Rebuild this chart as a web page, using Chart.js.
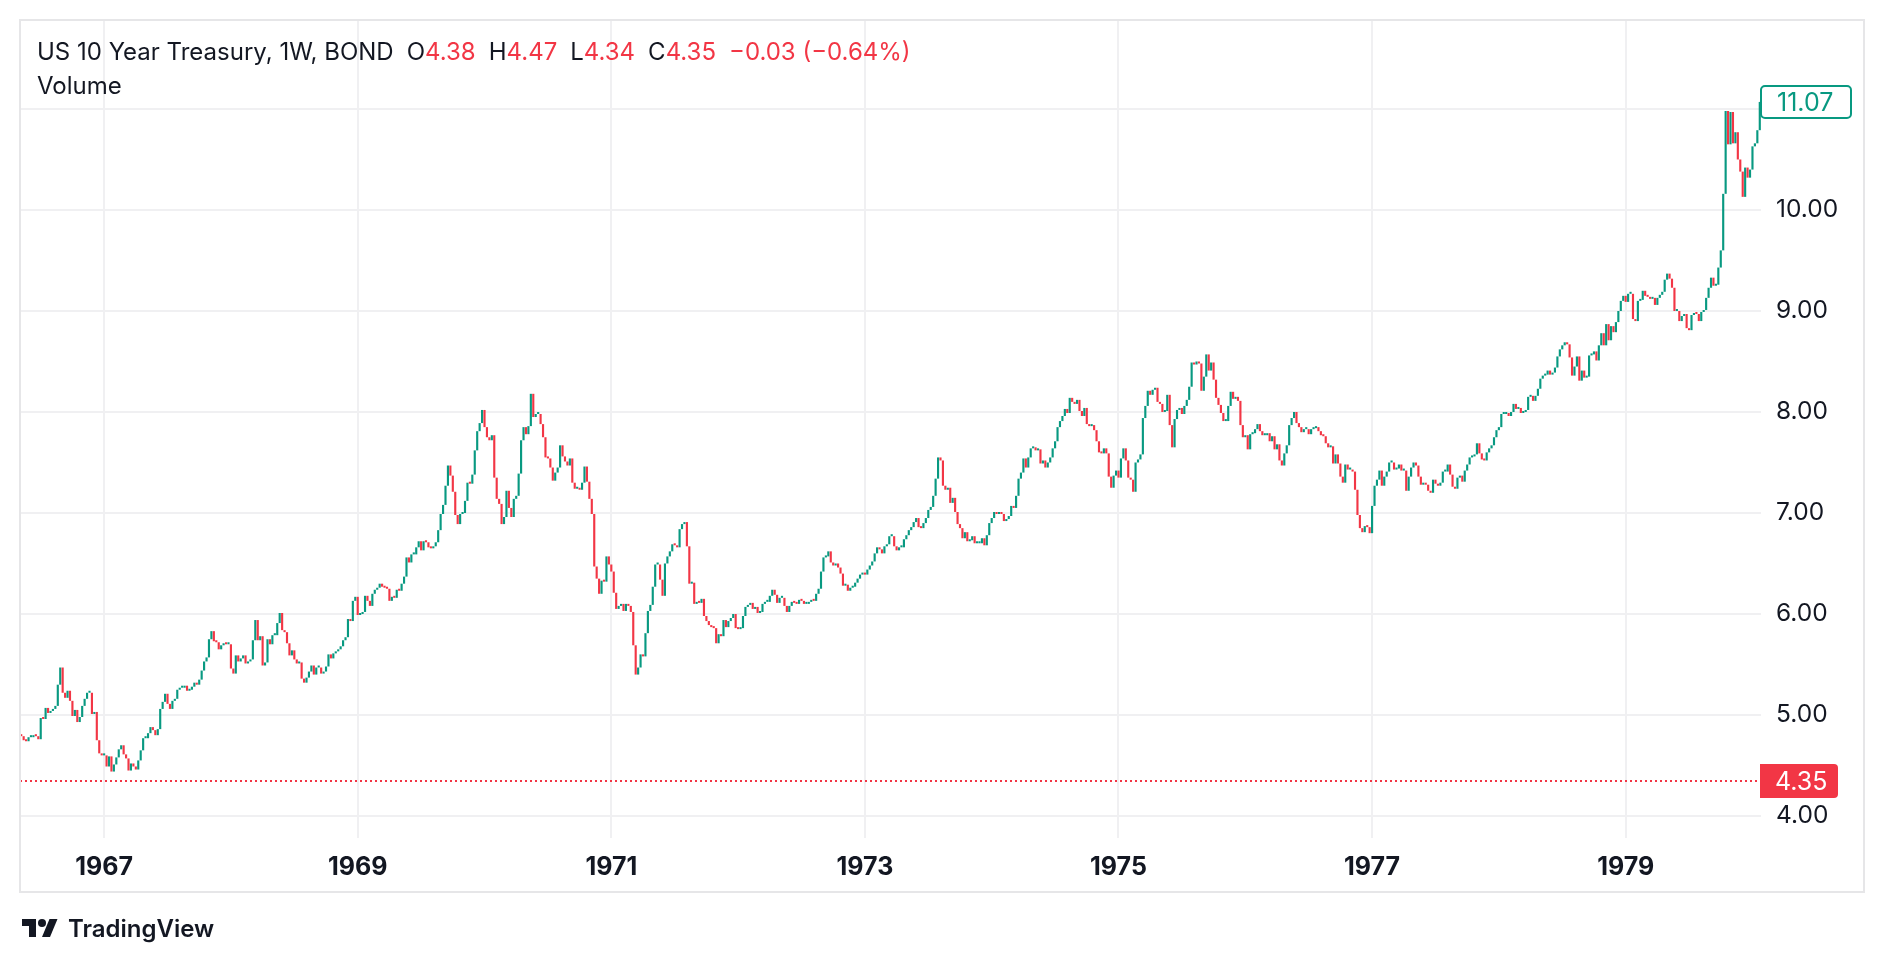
<!DOCTYPE html>
<html lang="en">
<head>
  <meta charset="UTF-8">
  <title>US 10 Year Treasury, 1W</title>
  <script src="https://cdn.jsdelivr.net/npm/chart.js"></script>
  <style>
      html, body { margin: 0; padding: 0; background: #ffffff; }
      body { width: 1882px; height: 964px; position: relative; overflow: hidden; font-family: Inter, "Noto Sans", sans-serif; color: #131722; }
      #chart { position: absolute; left: 0; top: 0; }
      #legend { position: absolute; left: 37px; top: 35px; font-size: 24px; line-height: 34px; white-space: nowrap; }
      #legend .kv { margin-left: 13px; }
      #legend .val { color: #f23645; }
      #logo { position: absolute; left: 22px; top: 914px; display: flex; align-items: center; font-size: 24px; font-weight: 600; }
      #logo svg { margin-right: 10px; }
  </style>
</head>
<body>
  <canvas id="chart" width="1882" height="964"></canvas>
  <div id="legend">
      <div id="title-line"></div>
      <div>Volume</div>
  </div>
  <div id="logo">
      <svg width="36" height="28" viewBox="0 0 36 28"><path d="M14 22H7V11H0V4h14v18z" fill="#131722"/><circle cx="20" cy="8" r="4" fill="#131722"/><path d="M28 22h-8l7.5-18h8z" fill="#131722"/></svg>
      <span>TradingView</span>
  </div>

  <script>
      // weekly closes, one array per calendar year
      var c1966 = [4.79, 4.75, 4.74, 4.78, 4.78, 4.80, 4.79, 4.76, 4.97, 4.96, 5.07, 5.02, 5.04, 5.06, 5.09, 5.30, 5.47,
                   5.22, 5.17, 5.24, 5.14, 4.99, 5.05, 4.93, 4.98, 5.09, 5.16, 5.22, 5.22, 5.01, 5.03, 4.75, 4.62, 4.60];
      var c1967 = [4.60, 4.49, 4.59, 4.44, 4.51, 4.58, 4.66, 4.70, 4.61, 4.57, 4.45, 4.52, 4.49, 4.46, 4.55, 4.65, 4.77, 4.77,
                   4.82, 4.88, 4.85, 4.80, 4.86, 5.06, 5.13, 5.21, 5.11, 5.06, 5.14, 5.16, 5.25, 5.27, 5.27, 5.29, 5.24, 5.25,
                   5.28, 5.32, 5.30, 5.35, 5.44, 5.53, 5.57, 5.75, 5.83, 5.73, 5.72, 5.65, 5.69, 5.71, 5.70, 5.70];
      var c1968 = [5.46, 5.41, 5.59, 5.53, 5.56, 5.59, 5.51, 5.53, 5.55, 5.74, 5.94, 5.74, 5.78, 5.49, 5.52, 5.75, 5.70, 5.79,
                   5.79, 5.91, 6.01, 5.84, 5.82, 5.71, 5.59, 5.64, 5.55, 5.51, 5.52, 5.36, 5.32, 5.37, 5.43, 5.49, 5.40, 5.47,
                   5.47, 5.41, 5.43, 5.48, 5.60, 5.56, 5.61, 5.63, 5.65, 5.68, 5.74, 5.77, 5.95, 5.93, 6.13, 6.17];
      var c1969 = [5.99, 6.00, 6.02, 6.18, 6.13, 6.08, 6.20, 6.24, 6.26, 6.30, 6.27, 6.26, 6.25, 6.13, 6.17, 6.16, 6.24, 6.23,
                   6.30, 6.37, 6.56, 6.51, 6.59, 6.59, 6.66, 6.72, 6.63, 6.72, 6.71, 6.66, 6.65, 6.67, 6.71, 6.83, 6.99, 7.08,
                   7.27, 7.47, 7.37, 7.21, 6.98, 6.89, 6.99, 7.00, 7.12, 7.30, 7.29, 7.38, 7.62, 7.81, 7.89, 8.02];
      var c1970 = [7.85, 7.75, 7.72, 7.77, 7.35, 7.14, 7.09, 6.89, 6.96, 7.22, 7.05, 6.96, 7.14, 7.17, 7.39, 7.72, 7.85, 7.78,
                   7.86, 8.18, 7.95, 7.98, 7.98, 7.88, 7.75, 7.55, 7.54, 7.45, 7.32, 7.40, 7.45, 7.67, 7.56, 7.51, 7.47, 7.54,
                   7.30, 7.24, 7.25, 7.23, 7.30, 7.46, 7.31, 7.14, 6.99, 6.47, 6.35, 6.20, 6.33, 6.32, 6.57, 6.49];
      var c1971 = [6.42, 6.21, 6.05, 6.08, 6.10, 6.03, 6.10, 6.08, 6.02, 5.69, 5.40, 5.47, 5.60, 5.58, 5.81, 6.03, 6.09, 6.27,
                   6.49, 6.49, 6.34, 6.18, 6.50, 6.57, 6.62, 6.69, 6.68, 6.66, 6.84, 6.89, 6.91, 6.67, 6.30, 6.31, 6.10, 6.12,
                   6.11, 6.15, 5.98, 5.93, 5.89, 5.87, 5.86, 5.71, 5.80, 5.78, 5.94, 5.87, 5.93, 5.96, 6.00, 5.86];
      var c1972 = [5.85, 5.86, 5.98, 6.07, 6.09, 6.11, 6.05, 6.07, 6.01, 6.02, 6.10, 6.12, 6.12, 6.18, 6.24, 6.19, 6.11, 6.16,
                   6.16, 6.08, 6.02, 6.08, 6.12, 6.11, 6.10, 6.14, 6.13, 6.10, 6.10, 6.12, 6.14, 6.13, 6.20, 6.25, 6.42, 6.56,
                   6.57, 6.62, 6.51, 6.48, 6.50, 6.46, 6.40, 6.28, 6.29, 6.23, 6.26, 6.27, 6.31, 6.35, 6.39, 6.40];
      var c1973 = [6.39, 6.44, 6.48, 6.52, 6.60, 6.66, 6.64, 6.60, 6.67, 6.69, 6.77, 6.77, 6.67, 6.63, 6.66, 6.66, 6.74, 6.78,
                   6.83, 6.86, 6.91, 6.95, 6.86, 6.85, 6.90, 6.95, 7.03, 7.06, 7.17, 7.34, 7.55, 7.52, 7.27, 7.23, 7.25, 7.10,
                   7.15, 7.01, 6.89, 6.85, 6.75, 6.81, 6.72, 6.73, 6.77, 6.70, 6.70, 6.70, 6.75, 6.68, 6.78, 6.90];
      var c1974 = [6.95, 7.01, 6.99, 7.00, 6.99, 6.92, 6.94, 6.97, 7.07, 7.05, 7.17, 7.34, 7.40, 7.54, 7.45, 7.55, 7.64, 7.65,
                   7.62, 7.63, 7.49, 7.52, 7.45, 7.50, 7.55, 7.64, 7.71, 7.85, 7.91, 7.96, 8.03, 7.99, 8.14, 8.10, 8.08, 8.12,
                   8.01, 7.96, 8.04, 7.88, 7.86, 7.87, 7.82, 7.71, 7.60, 7.59, 7.64, 7.59, 7.36, 7.25, 7.37, 7.42];
      var c1975 = [7.35, 7.54, 7.64, 7.52, 7.35, 7.33, 7.21, 7.50, 7.53, 7.58, 7.94, 8.06, 8.21, 8.17, 8.22, 8.24, 8.10, 8.08,
                   8.00, 8.01, 8.17, 7.87, 7.65, 7.93, 8.02, 8.04, 7.98, 8.06, 8.12, 8.25, 8.49, 8.47, 8.50, 8.48, 8.21, 8.35,
                   8.57, 8.41, 8.49, 8.32, 8.14, 8.07, 7.99, 7.91, 7.91, 8.06, 8.20, 8.13, 8.15, 8.11, 7.87, 7.75];
      var c1976 = [7.77, 7.63, 7.78, 7.79, 7.83, 7.88, 7.81, 7.77, 7.77, 7.79, 7.71, 7.76, 7.63, 7.68, 7.52, 7.47, 7.59, 7.67,
                   7.87, 7.94, 8.00, 7.89, 7.85, 7.80, 7.83, 7.83, 7.78, 7.83, 7.84, 7.85, 7.81, 7.77, 7.76, 7.69, 7.65, 7.66,
                   7.49, 7.58, 7.49, 7.36, 7.30, 7.48, 7.43, 7.43, 7.41, 7.23, 6.98, 6.85, 6.81, 6.87, 6.86, 6.80];
      var c1977 = [7.07, 7.27, 7.33, 7.42, 7.27, 7.36, 7.41, 7.50, 7.50, 7.43, 7.44, 7.48, 7.42, 7.42, 7.22, 7.36, 7.45, 7.50,
                   7.47, 7.36, 7.28, 7.30, 7.28, 7.22, 7.20, 7.33, 7.29, 7.27, 7.30, 7.41, 7.41, 7.48, 7.38, 7.26, 7.24, 7.35,
                   7.37, 7.31, 7.42, 7.48, 7.55, 7.56, 7.58, 7.69, 7.59, 7.53, 7.52, 7.60, 7.64, 7.67, 7.75, 7.82];
      var c1978 = [7.85, 7.98, 7.98, 7.99, 7.96, 8.00, 8.08, 8.03, 8.04, 7.99, 8.00, 8.02, 8.15, 8.16, 8.11, 8.16, 8.23, 8.33,
                   8.36, 8.37, 8.41, 8.37, 8.39, 8.44, 8.55, 8.62, 8.66, 8.69, 8.67, 8.54, 8.36, 8.45, 8.55, 8.31, 8.41, 8.34,
                   8.35, 8.56, 8.57, 8.60, 8.51, 8.66, 8.78, 8.66, 8.87, 8.71, 8.85, 8.79, 8.89, 9.00, 9.10, 9.15];
      var c1979 = [9.09, 9.17, 9.17, 8.92, 8.90, 9.10, 9.11, 9.20, 9.15, 9.14, 9.12, 9.13, 9.06, 9.13, 9.16, 9.19, 9.31, 9.37,
                   9.32, 9.23, 9.00, 9.00, 8.90, 8.95, 8.97, 8.83, 8.81, 8.96, 8.98, 8.97, 8.90, 8.99, 9.01, 9.13, 9.23, 9.33,
                   9.25, 9.26, 9.43, 9.60, 10.16, 10.98, 10.65, 10.97, 10.66, 10.77, 10.50, 10.38, 10.13, 10.42, 10.32, 10.40];
      var c1980 = [10.63, 10.66, 10.79, 11.07];

      var years = [1966, 1967, 1968, 1969, 1970, 1971, 1972, 1973, 1974, 1975, 1976, 1977, 1978, 1979, 1980];
      var closesByYear = [c1966, c1967, c1968, c1969, c1970, c1971, c1972, c1973, c1974, c1975, c1976, c1977, c1978, c1979, c1980];
      var firstOpen = 4.80;

      var tickYears = ['1967', '1969', '1971', '1973', '1975', '1977', '1979'];
      var priceTicks = [4, 5, 6, 7, 8, 9, 10, 11];

      // legend quote (latest bar of the symbol)
      var quoteKeys = ['O', 'H', 'L', 'C'];
      var quoteValues = [4.38, 4.47, 4.34, 4.35];
      var quoteChange = '\u22120.03 (\u22120.64%)';

      var upColor = '#089981';
      var downColor = '#f23645';
      var textColor = '#131722';
      var gridColor = '#f0f0f2';

      // legend text
      var line = document.getElementById('title-line');
      var t = document.createElement('span');
      t.textContent = 'US 10 Year Treasury, 1W, BOND';
      line.appendChild(t);
      quoteKeys.forEach(function (k, i) {
          var s = document.createElement('span');
          s.className = 'kv';
          s.innerHTML = k + '<span class="val">' + quoteValues[i].toFixed(2) + '</span>';
          line.appendChild(s);
      });
      var ch = document.createElement('span');
      ch.className = 'kv val';
      ch.textContent = quoteChange;
      line.appendChild(ch);

      // flatten weeks, open = previous close
      var labels = [], bars = [], colors = [];
      var prev = firstOpen;
      years.forEach(function (yr, k) {
          closesByYear[k].forEach(function (c, w) {
              labels.push(w === 0 ? String(yr) : '');
              bars.push([prev, c]);
              colors.push(c >= prev ? upColor : downColor);
              prev = c;
          });
      });
      var lastClose = prev;

      function roundBox(ctx, x, y, w, h, r) {
          ctx.beginPath();
          ctx.roundRect(x, y, w, h, r);
      }

      var overlay = {
          id: 'overlay',
          afterDatasetsDraw: function (chart) {
              var ctx = chart.ctx, a = chart.chartArea, y = chart.scales.y;
              var py = Math.round(y.getPixelForValue(quoteValues[3]));
              ctx.save();
              ctx.strokeStyle = downColor;
              ctx.lineWidth = 2;
              ctx.setLineDash([2, 3]);
              ctx.beginPath();
              ctx.moveTo(a.left, py);
              ctx.lineTo(a.right, py);
              ctx.stroke();
              ctx.restore();
          },
          afterDraw: function (chart) {
              var ctx = chart.ctx, a = chart.chartArea, y = chart.scales.y;
              ctx.save();
              // frame
              ctx.strokeStyle = '#e6e6e8';
              ctx.lineWidth = 2;
              ctx.strokeRect(20, 20, 1844, 872);

              ctx.font = '25px Inter';
              ctx.textBaseline = 'middle';

              // current price tag
              var py = Math.round(y.getPixelForValue(quoteValues[3]));
              ctx.fillStyle = downColor;
              roundBox(ctx, a.right - 1, py - 17, 78, 34, [0, 4, 4, 0]);
              ctx.fill();
              ctx.fillStyle = '#ffffff';
              ctx.fillText(quoteValues[3].toFixed(2), a.right + 14, py + 1);

              // last bar tag
              var ly = Math.round(y.getPixelForValue(lastClose));
              ctx.fillStyle = '#ffffff';
              roundBox(ctx, a.right, ly - 16, 90, 32, 4);
              ctx.fill();
              ctx.strokeStyle = upColor;
              ctx.lineWidth = 2;
              ctx.stroke();
              ctx.fillStyle = upColor;
              ctx.fillText(lastClose.toFixed(2), a.right + 16, ly + 1);
              ctx.restore();
          }
      };

      var ctx = document.getElementById('chart').getContext('2d');
      var chart = new Chart(ctx, {
          type: 'bar',
          data: {
              labels: labels,
              datasets: [{
                  data: bars,
                  backgroundColor: colors,
                  borderWidth: 0,
                  barPercentage: 0.88,
                  categoryPercentage: 1,
                  minBarLength: 2
              }]
          },
          options: {
              responsive: false,
              animation: false,
              devicePixelRatio: 1,
              layout: { padding: { left: 20, top: 20, right: 18, bottom: 72 } },
              plugins: { legend: { display: false }, tooltip: { enabled: false } },
              scales: {
                  x: {
                      type: 'category',
                      offset: true,
                      grid: { offset: false, color: gridColor, lineWidth: 2, drawTicks: false },
                      border: { display: false },
                      ticks: {
                          autoSkip: false,
                          maxRotation: 0,
                          padding: 14,
                          color: textColor,
                          font: { family: 'Inter', size: 25, weight: 'bold' }
                      },
                      afterBuildTicks: function (scale) {
                          scale.ticks = scale.ticks.filter(function (tk) {
                              return tickYears.indexOf(labels[tk.value]) !== -1;
                          });
                      },
                      afterFit: function (scale) {
                          scale.height = 54;
                          scale.paddingLeft = 0;
                          scale.paddingRight = 0;
                      }
                  },
                  y: {
                      position: 'right',
                      min: 3.782,
                      max: 11.881,
                      grid: { color: gridColor, lineWidth: 2, drawTicks: false },
                      border: { display: false },
                      ticks: {
                          padding: 15,
                          color: textColor,
                          font: { family: 'Inter', size: 24.5 },
                          callback: function (v) { return v >= 11 ? '' : v.toFixed(2); }
                      },
                      afterBuildTicks: function (scale) {
                          scale.ticks = priceTicks.map(function (v) { return { value: v }; });
                      },
                      afterFit: function (scale) {
                          scale.width = 103;
                          scale.paddingTop = 0;
                          scale.paddingBottom = 0;
                      }
                  }
              }
          },
          plugins: [overlay]
      });
  </script>
</body>
</html>
